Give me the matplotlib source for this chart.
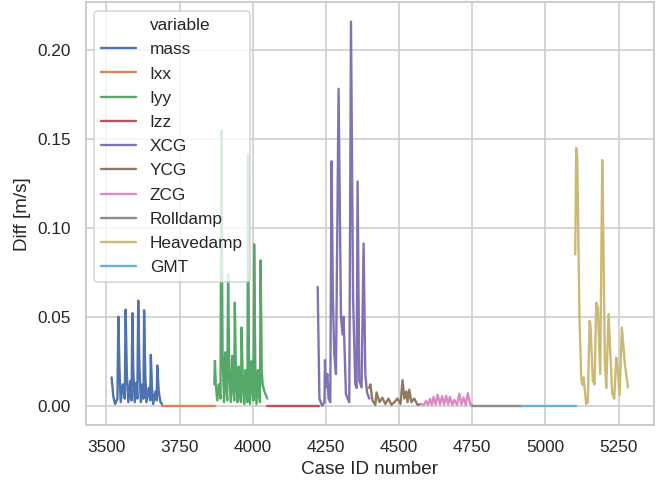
import matplotlib
matplotlib.use("Agg")
from matplotlib import pyplot as plt
from matplotlib.lines import Line2D
import seaborn as sns

# case ids / diffs digitised per variable
mass_x = [3518, 3524, 3530, 3538, 3541, 3545, 3549, 3556, 3563, 3566, 3570, 3575,
          3582, 3586, 3589, 3592, 3597, 3603, 3606, 3609, 3613, 3618, 3624, 3627,
          3629, 3633, 3637, 3645, 3650, 3652, 3656, 3660, 3668, 3672, 3674, 3679,
          3685, 3690]
mass_y = [0.0159, 0.005, 0.001, 0.004, 0.050, 0.020, 0.002, 0.012, 0.004, 0.054,
          0.018, 0.002, 0.014, 0.003, 0.052, 0.020, 0.002, 0.013, 0.004, 0.059,
          0.022, 0.002, 0.012, 0.004, 0.0536, 0.018, 0.002, 0.010, 0.003, 0.0286,
          0.010, 0.001, 0.008, 0.003, 0.0226, 0.008, 0.002, 0.001]

ixx_x = [3690, 3870]
ixx_y = [0.0, 0.0]

iyy_x = [3869, 3871, 3874, 3879, 3884, 3890, 3893, 3897, 3902, 3906, 3910, 3913,
         3916, 3920, 3925, 3930, 3934, 3937, 3939, 3943, 3948, 3952, 3956, 3960,
         3962, 3966, 3971, 3975, 3979, 3982, 3984, 3987, 3991, 3996, 4000, 4003,
         4005, 4009, 4013, 4018, 4022, 4025, 4027, 4031, 4034, 4040, 4045, 4050]
iyy_y = [0.012, 0.0252, 0.012, 0.003, 0.012, 0.004, 0.1545, 0.030, 0.002, 0.030,
         0.010, 0.003, 0.0738, 0.020, 0.002, 0.028, 0.008, 0.003, 0.0579, 0.015,
         0.002, 0.022, 0.007, 0.002, 0.0439, 0.015, 0.001, 0.020, 0.006, 0.002,
         0.141, 0.030, 0.001, 0.025, 0.008, 0.003, 0.0906, 0.020, 0.001, 0.020,
         0.006, 0.002, 0.0816, 0.020, 0.012, 0.008, 0.006, 0.004]

izz_x = [4050, 4226]
izz_y = [0.0, 0.0]

xcg_x = [4222, 4228, 4237, 4245, 4247, 4250, 4255, 4259.5, 4265, 4269.5, 4274,
         4278.7, 4284.5, 4293.4, 4301.6, 4307, 4310.5, 4318.6, 4330, 4335.8,
         4343, 4350.5, 4355, 4358.4, 4364.2, 4372, 4378.9, 4384.8, 4390.6, 4398.4]
xcg_y = [0.0667, 0.004, 0.0, 0.002, 0.0256, 0.0103, 0.0178, 0.004, 0.002, 0.1373,
         0.060, 0.0291, 0.0178, 0.178, 0.050, 0.040, 0.050, 0.0065, 0.002, 0.2157,
         0.060, 0.012, 0.010, 0.126, 0.014, 0.0103, 0.0911, 0.0178, 0.0075, 0.004]

ycg_x = [4398, 4402, 4409, 4419, 4423, 4433, 4443, 4453, 4464, 4474, 4484, 4494,
         4505, 4512, 4518, 4525, 4529, 4535, 4542, 4552, 4563, 4575]
ycg_y = [0.010, 0.012, 0.003, 0.0005, 0.0075, 0.002, 0.0045, 0.001, 0.004, 0.0005,
         0.002, 0.004, 0.001, 0.0144, 0.004, 0.008, 0.002, 0.009, 0.002, 0.004,
         0.0005, 0.001]

zcg_x = [4575, 4585, 4592, 4599, 4606, 4612, 4618, 4625, 4632, 4640, 4647, 4654,
         4661, 4668, 4674, 4682, 4689, 4698, 4706, 4713, 4720, 4728, 4735, 4743,
         4750]
zcg_y = [0.001, 0.0005, 0.0028, 0.0005, 0.0039, 0.0005, 0.005, 0.0008, 0.0061,
         0.0008, 0.0054, 0.0008, 0.0056, 0.0008, 0.005, 0.0005, 0.0033, 0.0005,
         0.0067, 0.0008, 0.0045, 0.0005, 0.007, 0.001, 0.0005]

rolldamp_x = [4750, 4921]
rolldamp_y = [0.0, 0.0]

heavedamp_x = [5102, 5105.3, 5108.7, 5116.6, 5122.4, 5125.8, 5130.3, 5139.5, 5145,
               5150.8, 5154.2, 5162, 5167.9, 5173.7, 5179.2, 5187.4, 5194.2,
               5198.7, 5203.1, 5207.9, 5215.8, 5221.6, 5228.4, 5235.3, 5242.1,
               5247.6, 5253.4, 5261.3, 5270.5, 5281.8]
heavedamp_y = [0.085, 0.1447, 0.140, 0.0476, 0.0159, 0.0118, 0.0159, 0.001, 0.002,
               0.0476, 0.045, 0.014, 0.012, 0.0579, 0.055, 0.0178, 0.138, 0.085,
               0.025, 0.010, 0.0514, 0.030, 0.0065, 0.004, 0.027, 0.020, 0.006,
               0.0439, 0.025, 0.0103]

gmt_x = [4921, 5104]
gmt_y = [0.0, 0.0]

variables = ["mass", "Ixx", "Iyy", "Izz", "XCG", "YCG", "ZCG",
             "Rolldamp", "Heavedamp", "GMT"]
series = [(mass_x, mass_y), (ixx_x, ixx_y), (iyy_x, iyy_y), (izz_x, izz_y),
          (xcg_x, xcg_y), (ycg_x, ycg_y), (zcg_x, zcg_y),
          (rolldamp_x, rolldamp_y), (heavedamp_x, heavedamp_y), (gmt_x, gmt_y)]

DPI = 113


def main():
    sns.set_theme(style="whitegrid", context="notebook")
    plt.rcParams['font.family'] = ['Liberation Sans', 'DejaVu Sans']
    colors = sns.color_palette("deep", len(variables))

    fig, ax = plt.subplots(figsize=(665 / DPI, 484 / DPI), dpi=DPI)
    fig.subplots_adjust(left=0.129, right=0.983, top=0.995, bottom=0.122)

    handles = [Line2D([], [], color="none", label="variable")]
    for name, (xs, ys), c in zip(variables, series, colors):
        line, = ax.plot(xs, ys, color=c, linewidth=1.5, label=name)
        handles.append(line)

    ax.set_xlabel("Case ID number")
    ax.set_ylabel("Diff [m/s]")
    ax.legend(handles=handles, loc="upper left", labelspacing=0.53)
    fig.savefig("out.png", dpi=DPI)


if __name__ == '__main__':
    main()
